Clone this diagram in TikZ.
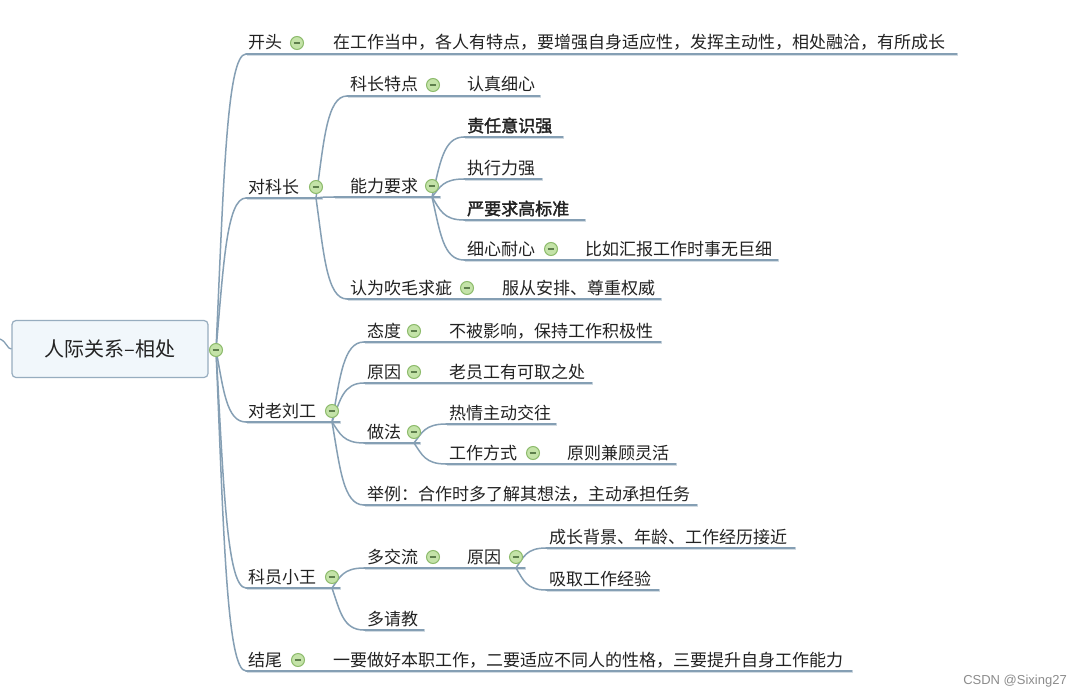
\documentclass[tikz,border=0pt]{standalone}
\usepackage{fontspec}
\usetikzlibrary{calc}
\newfontfamily\cjk{Noto Sans CJK SC}
\newfontfamily\cjkb{Noto Sans CJK SC}[FakeBold=2]
\newfontfamily\wmfont{Liberation Sans}
\definecolor{lc}{HTML}{859FB4}
\definecolor{lsh}{HTML}{D3DCE3}
\definecolor{txt}{HTML}{222222}
\definecolor{icf}{HTML}{C4E3A8}
\definecolor{icb}{HTML}{8DBB6C}
\definecolor{icm}{HTML}{5E7F4C}
\definecolor{rootfill}{HTML}{F1F7FB}
\tikzset{
  t/.style={anchor=base west, inner sep=0pt, font=\cjk\fontsize{17}{17}\selectfont, text=txt},
  ul/.style={draw=lc, line width=1.5pt, line cap=round},
  ulsh/.style={draw=lsh, line width=1.2pt},
  conn/.style={draw=lc, line width=1.5pt, to path={let \p1=(\tikztostart), \p2=(\tikztotarget) in
     .. controls (\x1+0.25*\x2-0.25*\x1, \y1+0.55*\y2-0.55*\y1) and (\x1+0.35*\x2-0.35*\x1, \y2) .. (\tikztotarget)}},
  ico/.style={circle, minimum size=13pt, inner sep=0pt, draw=icb, fill=icf, line width=1pt,
    path picture={\draw[icm, line width=1.1pt] ([xshift=-3.3pt]path picture bounding box.center) -- ([xshift=3.3pt]path picture bounding box.center);}},
  rootbox/.style={rounded corners=4pt, draw=lc!85, line width=1.2pt, fill=rootfill, minimum width=196pt, minimum height=57pt,
    font=\cjk\fontsize{20}{20}\selectfont, text=txt},
}
\newcommand\mmtopic[6]{%
  \coordinate (#1-s) at (#2,#4);
  \coordinate (#1-in) at (#2+14,#4);
  \coordinate (#1-e) at (#3,#4);
  \draw[ulsh] (#2+15,#4+1.8) -- (#3+1,#4+1.8);
  \draw[ul] (#1-in) -- (#1-e);
  \node[t] (#1) at (#5,#4-5) {#6};
}
\newcommand\bt[1]{\cjkb\fontsize{17}{17}\selectfont #1}
\begin{document}
\begin{tikzpicture}[x=1pt,y=-1pt]
\useasboundingbox[fill=white] (0,0) rectangle (1081,698);

% root
\node[rootbox] (root) at (110,349) {人际关系–相处};
\coordinate (lft) at (0,339);
\draw[draw=lc, line width=1.3pt] (lft) .. controls (7,342) and (7,349) .. (root.west);
\coordinate (root-o) at (216,350);

% level 1
\mmtopic{kt}{232}{330}{54}{248}{开头}
\mmtopic{ktc}{316}{957}{54}{333}{在工作当中，各人有特点，要增强自身适应性，发挥主动性，相处融洽，有所成长}

\mmtopic{dkz}{232}{322}{198}{248}{对科长}
\coordinate (dkz-o) at (316,198);
\mmtopic{kztd}{333}{445}{96}{350}{科长特点}
\mmtopic{kztdc}{431}{540}{96}{467}{认真细心}
\mmtopic{nlyq}{320}{440}{197}{350}{能力要求}
\coordinate (nlyq-o) at (432,197);
\mmtopic{zr}{450}{563}{137}{467}{\bt{责任意识强}}
\mmtopic{zx}{450}{542}{179}{467}{执行力强}
\mmtopic{yyq}{450}{585}{220}{467}{\bt{严要求高标准}}
\mmtopic{xxnx}{450}{570}{260}{467}{细心耐心}
\mmtopic{xxnxc}{556}{778}{260}{585}{比如汇报工作时事无巨细}
\mmtopic{rwcm}{333}{485}{299}{350}{认为吹毛求疵}
\mmtopic{rwcmc}{471}{661}{299}{502}{服从安排、尊重权威}

\mmtopic{dllg}{232}{340}{422}{248}{对老刘工}
\coordinate (dllg-o) at (332,422);
\mmtopic{td}{350}{430}{342}{367}{态度}
\mmtopic{tdc}{416}{661}{342}{449}{不被影响，保持工作积极性}
\mmtopic{yy}{350}{430}{383}{367}{原因}
\mmtopic{yyc}{416}{592}{383}{449}{老员工有可取之处}
\mmtopic{zf}{350}{420}{443}{367}{做法}
\coordinate (zf-o) at (414,443);
\mmtopic{rq}{432}{556}{424}{449}{热情主动交往}
\mmtopic{gzfs}{432}{550}{464}{449}{工作方式}
\mmtopic{gzfsc}{536}{676}{464}{567}{原则兼顾灵活}
\mmtopic{jl}{350}{697}{505}{367}{举例：合作时多了解其想法，主动承担任务}

\mmtopic{kyxw}{232}{340}{588}{248}{科员小王}
\coordinate (kyxw-o) at (332,588);
\mmtopic{djl}{350}{450}{568}{367}{多交流}
\mmtopic{yy2}{436}{525}{568}{467}{原因}
\coordinate (yy2-o) at (516,568);
\mmtopic{czbj}{532}{795}{548}{549}{成长背景、年龄、工作经历接近}
\mmtopic{xq}{532}{659}{590}{549}{吸取工作经验}
\mmtopic{dqj}{350}{424}{630}{367}{多请教}

\mmtopic{jw}{232}{330}{671}{248}{结尾}
\mmtopic{jwc}{316}{852}{671}{333}{一要做好本职工作，二要适应不同人的性格，三要提升自身工作能力}

% connectors
\foreach \c in {kt,dkz,dllg,kyxw,jw} \draw[conn] (root-o) to (\c-in);
\foreach \c in {kztd,rwcm} \draw[conn] (dkz-o) to (\c-in);
\draw[conn] (dkz-o) to (nlyq-in);
\foreach \c in {zr,zx,yyq,xxnx} \draw[conn] (nlyq-o) to (\c-in);
\foreach \c in {td,yy,zf,jl} \draw[conn] (dllg-o) to (\c-in);
\foreach \c in {rq,gzfs} \draw[conn] (zf-o) to (\c-in);
\foreach \c in {djl,dqj} \draw[conn] (kyxw-o) to (\c-in);
\foreach \c in {czbj,xq} \draw[conn] (yy2-o) to (\c-in);

% icons
\node[ico] (root-i) at (216,350) {};
\node[ico] (kt-i) at (297,43) {};
\node[ico] (dkz-i) at (316,187) {};
\node[ico] (kztd-i) at (433,85) {};
\node[ico] (nlyq-i) at (432,186) {};
\node[ico] (xxnx-i) at (551,249) {};
\node[ico] (rwcm-i) at (467,288) {};
\node[ico] (dllg-i) at (332,411) {};
\node[ico] (td-i) at (414,331) {};
\node[ico] (yy-i) at (414,372) {};
\node[ico] (zf-i) at (414,432) {};
\node[ico] (gzfs-i) at (533,453) {};
\node[ico] (kyxw-i) at (332,577) {};
\node[ico] (djl-i) at (433,557) {};
\node[ico] (yy2-i) at (516,557) {};
\node[ico] (jw-i) at (298,660) {};

% watermark
\node[anchor=east, inner sep=0pt, font=\wmfont\fontsize{13}{13}\selectfont, text=black!45] (wm) at (1067,681) {CSDN @Sixing27};
\end{tikzpicture}
\end{document}
